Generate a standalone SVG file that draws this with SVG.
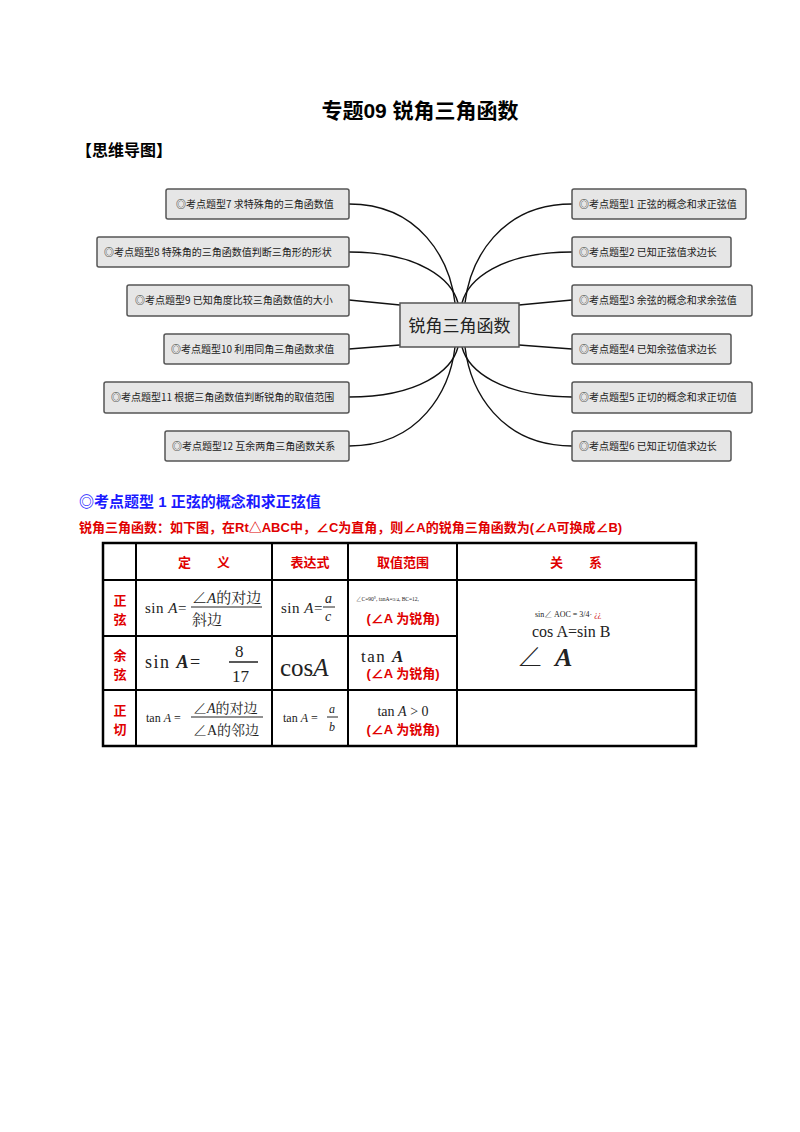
<svg xmlns="http://www.w3.org/2000/svg" width="800" height="1132" viewBox="0 0 800 1132">
<style>
.cjk{font-family:"Liberation Sans","Noto Sans CJK SC",sans-serif}
.ser{font-family:"Liberation Serif","Noto Serif CJK SC","Noto Sans CJK SC",serif}
.nb rect{fill:#e6e6e6;stroke:#555;stroke-width:1.5}
.nb text{font-family:"Noto Sans CJK SC",sans-serif;font-size:10px;fill:#222}
.con path{fill:none;stroke:#111;stroke-width:1.4}
.red{fill:#e00000;font-weight:bold}
.tl line{stroke:#000;stroke-width:2}
</style>
<rect width="800" height="1132" fill="#fff"/>
<text x="420" y="118" text-anchor="middle" class="cjk" font-size="21" font-weight="bold">专题09 锐角三角函数</text>
<text x="76" y="156" class="cjk" font-size="16" font-weight="bold">【思维导图】</text>
<g class="con">
<path d="M349,204 C420,204 450,260 455,303"/>
<path d="M349,252 C420,252 452,280 458,303"/>
<path d="M349,300 L400,305"/>
<path d="M349,349 L400,345"/>
<path d="M349,397 C420,397 452,370 458,347"/>
<path d="M349,446 C420,446 450,390 455,347"/>
<path d="M572,204 C500,204 470,260 465,303"/>
<path d="M572,252 C500,252 468,280 462,303"/>
<path d="M572,300 L519,305"/>
<path d="M572,349 L519,345"/>
<path d="M572,397 C500,397 468,370 462,347"/>
<path d="M572,446 C500,446 470,390 465,347"/>
</g>
<g id="center" class="nb"><rect x="400" y="303" width="119" height="44"/><text x="459.5" y="332" text-anchor="middle" style="font-size:17px">锐角三角函数</text></g>
<g id="n7" class="nb"><rect x="166" y="189" width="183" height="30" rx="2"/><text x="176" y="208">◎考点题型7  求特殊角的三角函数值</text></g>
<g id="n8" class="nb"><rect x="97" y="237" width="252" height="30" rx="2"/><text x="104" y="256">◎考点题型8  特殊角的三角函数值判断三角形的形状</text></g>
<g id="n9" class="nb"><rect x="127" y="285" width="222" height="31" rx="2"/><text x="135" y="304">◎考点题型9  已知角度比较三角函数值的大小</text></g>
<g id="n10" class="nb"><rect x="164" y="334" width="185" height="30" rx="2"/><text x="171" y="353">◎考点题型10  利用同角三角函数求值</text></g>
<g id="n11" class="nb"><rect x="104" y="382" width="245" height="31" rx="2"/><text x="111" y="401">◎考点题型11  根据三角函数值判断锐角的取值范围</text></g>
<g id="n12" class="nb"><rect x="165" y="431" width="184" height="30" rx="2"/><text x="172" y="450">◎考点题型12  互余两角三角函数关系</text></g>
<g id="n1" class="nb"><rect x="572" y="189" width="174" height="30" rx="2"/><text x="579" y="208">◎考点题型1 正弦的概念和求正弦值</text></g>
<g id="n2" class="nb"><rect x="572" y="237" width="159" height="30" rx="2"/><text x="579" y="256">◎考点题型2  已知正弦值求边长</text></g>
<g id="n3" class="nb"><rect x="572" y="285" width="180" height="31" rx="2"/><text x="579" y="304">◎考点题型3  余弦的概念和求余弦值</text></g>
<g id="n4" class="nb"><rect x="572" y="334" width="159" height="30" rx="2"/><text x="579" y="353">◎考点题型4  已知余弦值求边长</text></g>
<g id="n5" class="nb"><rect x="572" y="382" width="180" height="31" rx="2"/><text x="579" y="401">◎考点题型5  正切的概念和求正切值</text></g>
<g id="n6" class="nb"><rect x="572" y="431" width="159" height="30" rx="2"/><text x="579" y="450">◎考点题型6  已知正切值求边长</text></g>
<text x="79" y="507" class="cjk" font-size="15" font-weight="bold" fill="#1a1aff">◎考点题型 1  正弦的概念和求正弦值</text>
<text x="79" y="532" class="cjk red" font-size="13">锐角三角函数：如下图，在Rt△ABC中，∠C为直角，则∠A的锐角三角函数为(∠A可换成∠B)</text>
<g class="tl">
<rect x="103" y="543" width="593" height="203" fill="none" stroke="#000" stroke-width="2.5"/>
<line x1="103" y1="580" x2="696" y2="580"/>
<line x1="103" y1="636" x2="457" y2="636"/>
<line x1="103" y1="690" x2="696" y2="690"/>
<line x1="136" y1="543" x2="136" y2="746"/>
<line x1="272" y1="543" x2="272" y2="746"/>
<line x1="348" y1="543" x2="348" y2="746"/>
<line x1="457" y1="543" x2="457" y2="746"/>
</g>
<g class="cjk red" font-size="13">
<text x="204" y="567" text-anchor="middle">定　　义</text>
<text x="310" y="567" text-anchor="middle">表达式</text>
<text x="403" y="567" text-anchor="middle">取值范围</text>
<text x="576" y="567" text-anchor="middle">关　　系</text>
<text x="120" y="605" text-anchor="middle">正</text><text x="120" y="624" text-anchor="middle">弦</text>
<text x="120" y="660" text-anchor="middle">余</text><text x="120" y="679" text-anchor="middle">弦</text>
<text x="120" y="715" text-anchor="middle">正</text><text x="120" y="734" text-anchor="middle">切</text>
<text x="403" y="623" text-anchor="middle">(∠A 为锐角)</text>
<text x="403" y="678" text-anchor="middle">(∠A 为锐角)</text>
<text x="403" y="734" text-anchor="middle">(∠A 为锐角)</text>
</g>
<g class="ser" fill="#222">
<text x="145" y="613" font-size="15" letter-spacing="0.5">sin <tspan font-style="italic">A</tspan>=</text>
<text x="192" y="603" font-size="15">∠<tspan font-style="italic">A</tspan>的对边</text>
<line x1="191" y1="607" x2="262" y2="607" stroke="#222" stroke-width="1"/>
<text x="192" y="625" font-size="15">斜边</text>
<text x="281" y="613" font-size="15" letter-spacing="0.5">sin <tspan font-style="italic">A</tspan>=</text>
<text x="325" y="603" font-size="14" font-style="italic">a</text>
<line x1="323" y1="607" x2="335" y2="607" stroke="#222"/>
<text x="325" y="621" font-size="14" font-style="italic">c</text>
<text x="356" y="601" font-size="5.5">∠C=90°, tanA=<tspan font-size="5">3/4</tspan>, BC=12,</text>
<text x="145" y="668" font-size="18" letter-spacing="1.5">sin <tspan font-weight="bold" font-style="italic">A</tspan>=</text>
<text x="235" y="657" font-size="17">8</text>
<line x1="229" y1="662" x2="258" y2="662" stroke="#222" stroke-width="1.5"/>
<text x="232" y="682" font-size="17">17</text>
<text x="280" y="676" font-size="25">cos<tspan font-style="italic">A</tspan></text>
<text x="361" y="662" font-size="17" letter-spacing="1.5">tan <tspan font-weight="bold" font-style="italic">A</tspan></text>
<text x="146" y="722" font-size="12">tan <tspan font-style="italic">A</tspan> =</text>
<text x="193" y="713" font-size="14">∠<tspan font-style="italic">A</tspan>的对边</text>
<line x1="191" y1="717" x2="263" y2="717" stroke="#222"/>
<text x="193" y="735" font-size="14">∠A的邻边</text>
<text x="283" y="722" font-size="12">tan <tspan font-style="italic">A</tspan> =</text>
<text x="329" y="713" font-size="12" font-style="italic">a</text>
<line x1="327" y1="717" x2="338" y2="717" stroke="#222"/>
<text x="329" y="731" font-size="12" font-style="italic">b</text>
<text x="403" y="716" font-size="14" text-anchor="middle">tan <tspan font-style="italic">A</tspan> &gt; 0</text>
<text x="535" y="617" font-size="8">sin∠ AOC = 3/4· <tspan fill="#c00">¿¿</tspan></text>
<text x="532" y="637" font-size="16">cos A=sin B</text>
<text x="517" y="666" font-size="26" letter-spacing="12">∠<tspan font-style="italic" font-weight="bold">A</tspan></text>
</g>
</svg>
